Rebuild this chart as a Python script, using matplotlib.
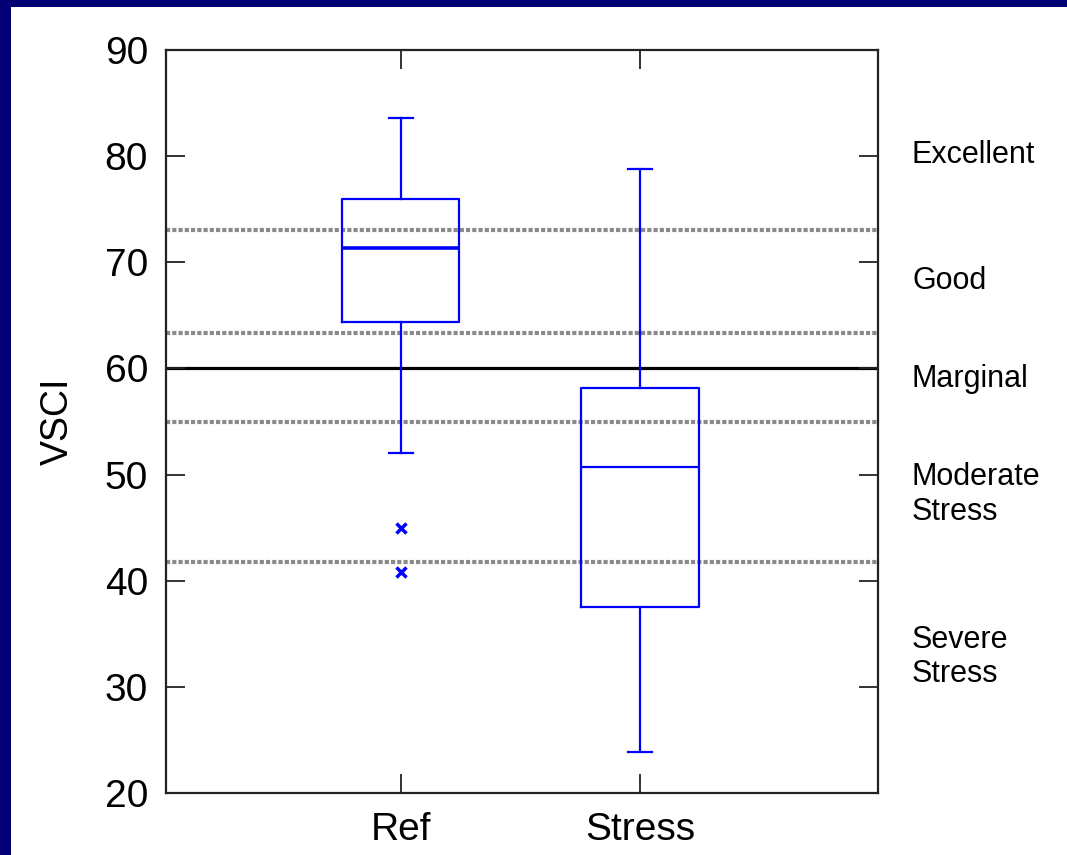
import matplotlib
matplotlib.use("Agg")
import matplotlib.pyplot as plt
from matplotlib.patches import Rectangle
from matplotlib.transforms import blended_transform_factory

# box statistics per site group
groups = ["Ref", "Stress"]
whislo = [52.0, 23.9]
q1 = [64.4, 37.5]
med = [71.3, 50.7]
q3 = [76.0, 58.2]
whishi = [83.6, 78.8]
fliers = [[45.0, 40.8], []]

# condition class thresholds and labels
class_cuts = [73.0, 63.3, 55.0, 41.8]
marginal_line = 60
class_names = ["Excellent", "Good", "Marginal", "Moderate\nStress", "Severe\nStress"]
class_y = [80.1, 68.2, 59.0, 48.1, 32.8]

fig = plt.figure(figsize=(10.67, 8.55), dpi=100)
fig.patch.set_facecolor("white")
# navy frame on top and left edges
fig.patches.append(Rectangle((0, 0), 11 / 1067, 1, transform=fig.transFigure,
                             facecolor="#000074", edgecolor="none", zorder=0))
fig.patches.append(Rectangle((0, 1 - 7 / 855), 1, 7 / 855, transform=fig.transFigure,
                             facecolor="#000074", edgecolor="none", zorder=0))

ax = fig.add_axes([166 / 1067, 62 / 855, 712 / 1067, 743 / 855])

for y in class_cuts:
    ax.axhline(y, color="#8a8a8a", lw=3, ls=(0, (1, 0.5)), zorder=1)
ax.axhline(marginal_line, color="black", lw=2.3, zorder=1)

stats = []
for i, g in enumerate(groups):
    stats.append(dict(label=g, whislo=whislo[i], q1=q1[i], med=med[i],
                      q3=q3[i], whishi=whishi[i], fliers=fliers[i]))

bp = ax.bxp(stats, positions=[1, 2], widths=0.49, capwidths=0.1,
            boxprops=dict(color="blue", lw=1.6),
            whiskerprops=dict(color="blue", lw=1.6),
            capprops=dict(color="blue", lw=1.6),
            medianprops=dict(color="blue", lw=1.6),
            flierprops=dict(marker="x", markeredgecolor="blue", markersize=7,
                            markeredgewidth=2.5, linestyle="none"))
for artist in bp["boxes"] + bp["whiskers"] + bp["caps"] + bp["medians"] + bp["fliers"]:
    artist.set_zorder(3)
bp["medians"][0].set_linewidth(2.6)

ax.set_xlim(0.017, 2.996)
ax.set_ylim(20, 90)
ax.set_yticks(range(20, 91, 10))
ax.set_xticks([1, 2])
ax.set_xticklabels(groups)

for s in ax.spines.values():
    s.set_linewidth(1.6)
    s.set_color("#222222")
ax.tick_params(direction="in", length=14, width=1.3, color="#222222",
               top=True, right=True, labelsize=28)
ax.tick_params(axis="y", pad=13)
ax.tick_params(axis="x", pad=14)
for lab in ax.get_xticklabels() + ax.get_yticklabels():
    lab.set_fontfamily("Liberation Sans")

ax.set_ylabel("VSCI", fontsize=27, fontfamily="Liberation Sans", labelpad=21)

label_tf = blended_transform_factory(fig.transFigure, ax.transData)
for name, y in zip(class_names, class_y):
    ax.text(912 / 1067, y, name, transform=label_tf,
            fontsize=22, fontfamily="Liberation Sans", va="center", ha="left",
            linespacing=1.2, clip_on=False)

fig.savefig("out.png", dpi=100)
